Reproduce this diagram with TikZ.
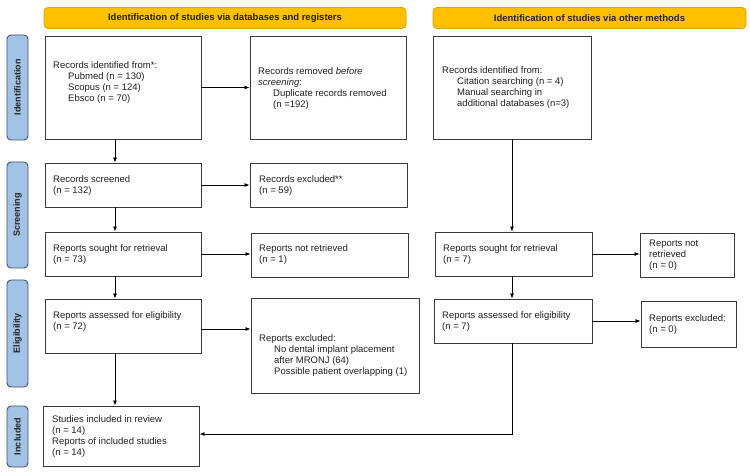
\documentclass[tikz,border=0pt]{standalone}
\usepackage{fontspec}
\setmainfont{Liberation Sans}
\usetikzlibrary{arrows.meta}
\definecolor{bannerfill}{HTML}{FFC000}
\definecolor{bannerdraw}{HTML}{D9A300}
\definecolor{tabfill}{HTML}{A2C3E6}
\definecolor{tabdraw}{HTML}{44546A}
\definecolor{boxdraw}{HTML}{3A3A3A}
\definecolor{txtcol}{HTML}{222222}
\begin{document}
\begin{tikzpicture}[x=1pt,y=-1pt,
  box/.style={draw=boxdraw, line width=0.9pt, fill=white, inner sep=0pt},
  txt/.style={anchor=west, align=left, inner sep=0pt, text=txtcol, font=\fontsize{9.5}{11}\selectfont},
  banner/.style={draw=bannerdraw, fill=bannerfill, rounded corners=4pt, line width=0.8pt, inner sep=0pt, font=\fontsize{9.5}{11}\selectfont\bfseries, text=txtcol},
  tab/.style={draw=tabdraw, fill=tabfill, rounded corners=4pt, line width=0.9pt, inner sep=0pt, rotate=90, minimum height=21pt, font=\fontsize{9}{11}\selectfont\bfseries, text=txtcol},
  arr/.style={-{Latex[length=5pt,width=4pt]}, line width=0.8pt, draw=black}
]
\useasboundingbox (0,0) rectangle (750,473);
\fill[white] (0,0) rectangle (750,473);
\newcommand{\ind}{\hspace*{15pt}}

% banners
\node[banner, minimum width=362pt, minimum height=21pt] (ban1) at (225,18) {Identification of studies via databases and registers};
\node[banner, minimum width=313pt, minimum height=21pt] (ban2) at (589.5,18) {Identification of studies via other methods};

% tabs
\node[tab, minimum width=105pt] (tid) at (17.5,87.5) {Identification};
\node[tab, minimum width=106pt] (tsc) at (17.5,215) {Screening};
\node[tab, minimum width=107pt] (tel) at (17.5,333.5) {Eligibility};
\node[tab, minimum width=61pt] (tin) at (17.5,436.5) {Included};

\coordinate (lx) at (115,0);

% left column
\node[box, minimum width=156pt, minimum height=103pt] (b1) at (123,87.5) {};
\node[txt] (t1) at (53,83) {Records identified from*:\\\ind Pubmed (n = 130)\\\ind Scopus (n = 124)\\\ind Ebsco (n = 70)};

\node[box, minimum width=156pt, minimum height=103pt] (b2) at (328,87.5) {};
\node[txt] (t2) at (258,89) {Records removed \textit{before}\\\textit{screening}:\\\ind Duplicate records removed\\\ind (n =192)};

\node[box, minimum width=156pt, minimum height=44pt] (scr) at (123,185) {};
\node[txt] (tscr) at (53,186) {Records screened\\(n = 132)};

\node[box, minimum width=157pt, minimum height=44pt] (exc) at (328.5,185) {};
\node[txt] (texc) at (259,186) {Records excluded**\\(n = 59)};

\node[box, minimum width=156pt, minimum height=44pt] (sou) at (123,254) {};
\node[txt] (tsou) at (53,255) {Reports sought for retrieval\\(n = 73)};

\node[box, minimum width=157pt, minimum height=44pt] (nre) at (329.5,255) {};
\node[txt] (tnre) at (259,255) {Reports not retrieved\\(n = 1)};

\node[box, minimum width=156pt, minimum height=54pt] (ass) at (123,326) {};
\node[txt] (tass) at (53,322) {Reports assessed for eligibility\\(n = 72)};

\node[box, minimum width=168pt, minimum height=95pt] (rex) at (335,345.5) {};
\node[txt] (trex) at (259,356) {Reports excluded:\\\ind No dental implant placement\\\ind after MRONJ (64)\\\ind Possible patient overlapping (1)};

\node[box, minimum width=156pt, minimum height=60pt] (inc) at (121,436) {};
\node[txt] (tinc) at (52,437) {Studies included in review\\(n = 14)\\Reports of included studies\\(n = 14)};

% right column
\node[box, minimum width=158pt, minimum height=103pt] (b3) at (512,87.5) {};
\node[txt] (t3) at (442,88) {Records identified from:\\\ind Citation searching (n = 4)\\\ind Manual searching in\\\ind additional databases (n=3)};

\node[box, minimum width=157pt, minimum height=44pt] (rsou) at (513.5,254) {};
\node[txt] (trsou) at (443,255) {Reports sought for retrieval\\(n = 7)};

\node[box, minimum width=94pt, minimum height=44pt] (rnre) at (687,255) {};
\node[txt] (trnre) at (649,255) {Reports not\\retrieved\\(n = 0)};

\node[box, minimum width=158pt, minimum height=44pt] (rass) at (513,321) {};
\node[txt] (trass) at (442,322) {Reports assessed for eligibility\\(n = 7)};

\node[box, minimum width=95pt, minimum height=46pt] (rrex) at (688.5,324) {};
\node[txt] (trrex) at (649,325) {Reports excluded:\\(n = 0)};

% connectors left
\draw[arr] (b1.east) -- (b2.west);
\draw[arr] (b1.south -| lx) -- (scr.north -| lx);
\draw[arr] (scr.east) -- (exc.west);
\draw[arr] (scr.south -| lx) -- (sou.north -| lx);
\draw[arr] (sou.east) -- (sou.east -| nre.west);
\draw[arr] (sou.south -| lx) -- (ass.north -| lx);
\draw[arr] ([yshift=-3pt]ass.east) -- ([yshift=-3pt]ass.east -| rex.west);
\draw[arr] (ass.south -| lx) -- (inc.north -| lx);

% connectors right
\draw[arr] (b3.south) -- (b3.south |- rsou.north);
\draw[arr] (rsou.east) -- (rsou.east -| rnre.west);
\draw[arr] (rsou.south -| b3.south) -- (rass.north -| b3.south);
\draw[arr] (rass.east) -- (rass.east -| rrex.west);
\draw[arr] (rass.south -| b3.south) |- ([yshift=2pt]inc.east);
\end{tikzpicture}
\end{document}
